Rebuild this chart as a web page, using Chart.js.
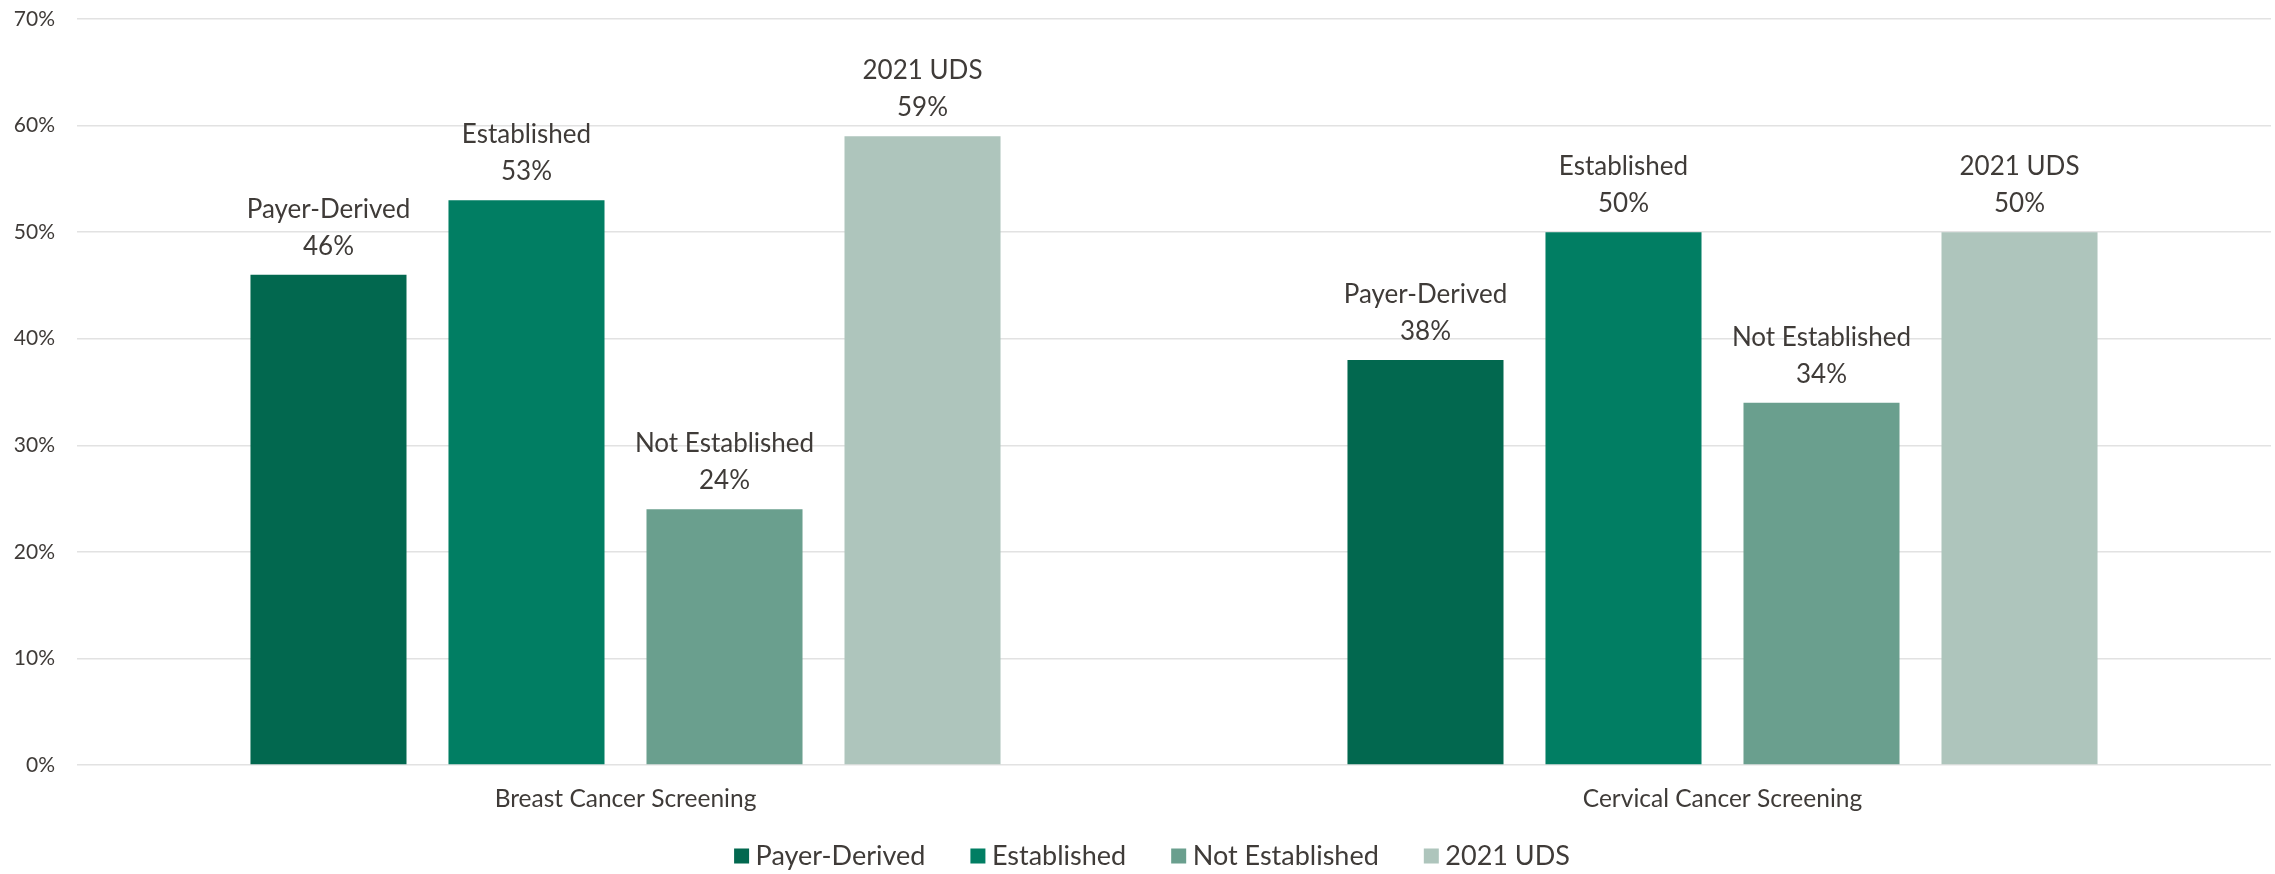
<!DOCTYPE html>
<html>
<head>
<meta charset="utf-8">
<script src="https://cdn.jsdelivr.net/npm/chart.js@4.4.1/dist/chart.umd.min.js"></script>
<style>
  html, body { margin: 0; padding: 0; background: #ffffff; }
  #wrap { width: 2275px; height: 874px; position: relative; }
</style>
</head>
<body>
<div id="wrap"><canvas id="c" width="2275" height="874"></canvas></div>
<script>
const categories = ["Breast Cancer Screening", "Cervical Cancer Screening"];
const seriesNames = ["Payer-Derived", "Established", "Not Established", "2021 UDS"];
const payerDerived = [46, 38];
const established = [53, 50];
const notEstablished = [24, 34];
const uds2021 = [59, 50];
const yTicks = [0, 10, 20, 30, 40, 50, 60, 70];

const colors = ["#02684F", "#017E63", "#6A9F8E", "#AEC5BC"];
const textColor = "#3F3B38";
const FONT = "Lato, 'Open Sans', sans-serif";

const seriesValues = [payerDerived, established, notEstablished, uds2021];

const LEGEND_PAD = 52;
const LEGEND_FONT = 27;
const LEGEND_H = 874 - (856 - LEGEND_FONT / 2 - LEGEND_PAD);

const labelPlugin = {
  id: 'twoLineLabels',
  beforeUpdate(chart) {
    const lg = chart.legend;
    if (lg && !lg._wrappedFit) {
      const f = lg.fit.bind(lg);
      lg.fit = function () { f(); this.height = LEGEND_H; };
      lg._wrappedFit = true;
    }
  },
  beforeDraw(chart) {
    const lg = chart.legend;
    if (lg && !lg._shifted) { lg.left += 20; lg.right += 20; lg._shifted = true; }
    if (chart.scales.x) chart.scales.x.bottom = chart.height;
  },
  afterDatasetsDraw(chart) {
    const ctx = chart.ctx;
    ctx.save();
    ctx.fillStyle = textColor;
    ctx.font = "26px " + FONT;
    ctx.textAlign = 'center';
    ctx.textBaseline = 'alphabetic';
    chart.data.datasets.forEach((ds, di) => {
      const meta = chart.getDatasetMeta(di);
      meta.data.forEach((bar, i) => {
        const v = ds.data[i];
        ctx.fillText(v + "%", bar.x, bar.y - 20);
        ctx.fillText(ds.label, bar.x, bar.y - 57);
      });
    });
    ctx.restore();
  }
};

new Chart(document.getElementById('c'), {
  type: 'bar',
  data: {
    labels: categories,
    datasets: seriesNames.map((name, i) => ({
      label: name,
      data: seriesValues[i],
      backgroundColor: colors[i],
      borderWidth: 0,
      categoryPercentage: 0.722,
      barPercentage: 0.788
    }))
  },
  options: {
    responsive: false,
    animation: false,
    devicePixelRatio: 1,
    layout: { padding: { top: 19, left: 0, right: 4, bottom: 0 } },
    plugins: {
      legend: {
        position: 'bottom',
        labels: {
          color: textColor,
          font: { family: FONT, size: LEGEND_FONT },
          usePointStyle: true,
          pointStyle: 'rect',
          boxWidth: 1,
          boxHeight: 15,
          padding: LEGEND_PAD
        }
      },
      tooltip: { enabled: false }
    },
    scales: {
      x: {
        grid: { display: false },
        border: { display: false },
        ticks: { color: textColor, font: { family: FONT, size: 24.5 }, padding: 11 },
        afterFit(scale) { scale.height = 874 - 765 - LEGEND_H; }
      },
      y: {
        min: 0,
        max: 70,
        afterBuildTicks(scale) { scale.ticks = yTicks.map(v => ({ value: v })); },
        grid: { color: "#E2E2E2", lineWidth: 1.5, drawTicks: false },
        border: { display: false },
        ticks: {
          color: textColor,
          font: { family: FONT, size: 21 },
          padding: 22,
          callback: v => v + "%"
        },
        afterFit(scale) { scale.width = 77; scale.paddingTop = 0; scale.paddingBottom = 0; }
      }
    }
  },
  plugins: [labelPlugin]
});
</script>
</body>
</html>
